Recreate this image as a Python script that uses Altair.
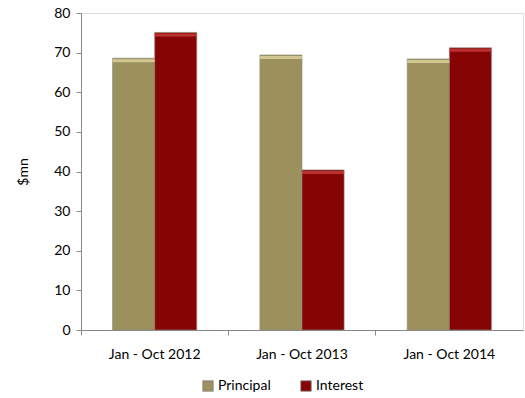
import altair as alt
import pandas as pd

periods = ["Jan - Oct 2012", "Jan - Oct 2013", "Jan - Oct 2014"]
principal = [68.6, 69.4, 68.4]
interest = [75.1, 40.4, 71.2]
series = ["Principal", "Interest"]
colors = ["#9c915c", "#870404"]
highlights = ["#d9cf98", "#c43a3a"]

rows = []
for p, a, b in zip(periods, principal, interest):
    rows.append({"period": p, "series": "Principal", "value": a})
    rows.append({"period": p, "series": "Interest", "value": b})
df = pd.DataFrame(rows)

FONT = "Lato"

x_enc = alt.X(
    "period:N",
    sort=periods,
    title=None,
    scale=alt.Scale(paddingInner=0, paddingOuter=0),
    axis=alt.Axis(
        labelAngle=0,
        bandPosition=0,
        labelFontSize=14,
        labelFont=FONT,
        labelColor="#000000",
        labelPadding=12,
        domainColor="#888888",
        tickColor="#888888",
        tickSize=5,
    ),
)
xoff_enc = alt.XOffset(
    "series:N",
    sort=series,
    scale=alt.Scale(paddingOuter=0.75, paddingInner=0),
)
y_enc = alt.Y(
    "value:Q",
    title="$mn",
    scale=alt.Scale(domain=[0, 80]),
    axis=alt.Axis(
        values=list(range(0, 81, 10)),
        labelOverlap=False,
        grid=False,
        labelFontSize=14,
        labelFont=FONT,
        labelColor="#000000",
        titleFont=FONT,
        titleFontSize=14,
        titleFontWeight="normal",
        titleColor="#000000",
        titlePadding=23,
        domainColor="#888888",
        tickColor="#888888",
        tickSize=5,
        labelPadding=6,
    ),
)

bars = (
    alt.Chart(df)
    .mark_bar(stroke="#8a8a80", strokeWidth=0.8, strokeOpacity=0.8)
    .encode(
        x=x_enc,
        xOffset=xoff_enc,
        y=y_enc,
        color=alt.Color(
            "series:N",
            sort=series,
            scale=alt.Scale(domain=series, range=colors),
            legend=alt.Legend(
                title=None,
                orient="none",
                direction="horizontal",
                legendX=120,
                legendY=366,
                symbolType="square",
                symbolSize=110,
                symbolStrokeColor="#888888",
                symbolStrokeWidth=0.8,
                labelFont=FONT,
                labelFontSize=14,
                labelColor="#000000",
                labelOffset=3,
                columnPadding=28,
            ),
        ),
    )
)

# light bevel strip along the top of each bar
bevel = (
    alt.Chart(df)
    .mark_tick(thickness=3, yOffset=2.5, opacity=0.85)
    .encode(
        x=x_enc,
        xOffset=xoff_enc,
        y=y_enc,
        color=alt.Color(
            "series:N",
            sort=series,
            scale=alt.Scale(domain=series, range=highlights),
            legend=None,
        ),
    )
)

chart = (
    alt.layer(bars, bevel)
    .resolve_scale(color="independent")
    .properties(
        width=442,
        height=317,
        autosize=alt.AutoSizeParams(type="none"),
        padding={"left": 81, "top": 13, "right": 2, "bottom": 68},
    )
    .configure_view(stroke=None)
    .configure(background="#ffffff")
)

chart.save("out.html", embed_options={"renderer": "svg", "actions": False})
